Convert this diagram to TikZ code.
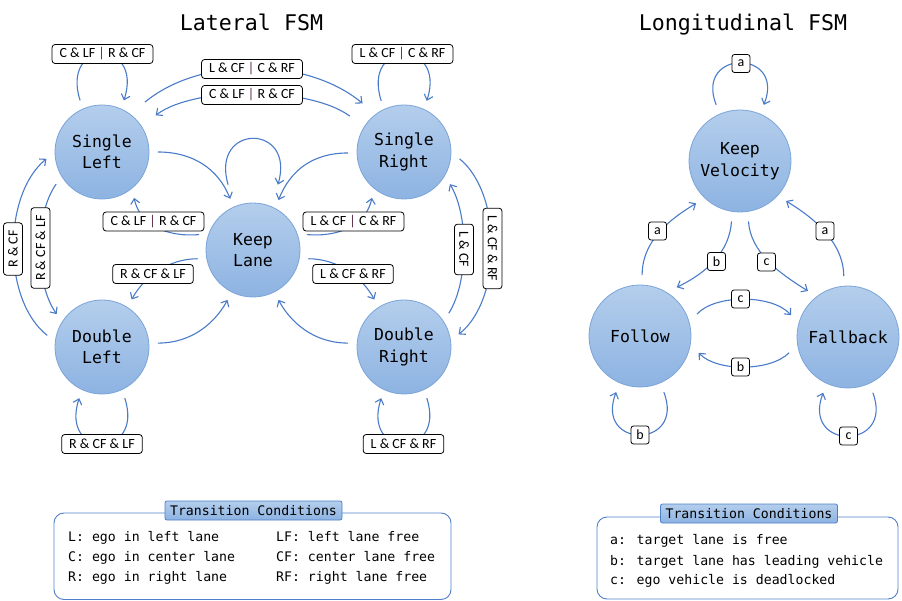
\documentclass[tikz,border=0pt]{standalone}
\usepackage{fontspec}
\setmainfont{Carlito}
\newfontfamily\monof{DejaVu Sans Mono}
\usetikzlibrary{arrows.meta}
\definecolor{arr}{HTML}{4A7BC8}
\definecolor{ctop}{HTML}{B4CEEC}
\definecolor{cbot}{HTML}{8DB3E2}
\definecolor{cbrd}{HTML}{7BA4D9}
\definecolor{barc}{HTML}{5A2A4A}
\definecolor{legb}{HTML}{4F7FC9}
\newcommand\mybar{{\color{barc}|}}
\begin{document}
\begin{tikzpicture}[x=1pt,y=-1pt,
  state/.style={circle, draw=cbrd, line width=0.8pt, top color=ctop, bottom color=cbot,
    minimum size=94pt, inner sep=0pt, outer sep=9pt, align=center,
    font=\monof\fontsize{16.5}{21.6}\selectfont},
  lstate/.style={state, minimum size=102pt, outer sep=10pt},
  conn/.style={draw=arr, line width=1.1pt, -{Straight Barb[length=5pt,width=9pt]}},
  lbl/.style={draw=black, fill=white, rounded corners=3pt, line width=0.8pt,
    font=\fontsize{14}{15}\selectfont, inner xsep=7.5pt, inner ysep=0pt, minimum height=19pt},
  let/.style={draw=black, fill=white, rounded corners=2.5pt, line width=0.8pt,
    font=\fontsize{14}{15}\selectfont, inner sep=0pt, minimum size=18pt},
  title/.style={anchor=base, font=\monof\fontsize{21.6}{24}\selectfont},
  legbox/.style={draw=legb, line width=0.9pt, rounded corners=10pt},
  leghead/.style={draw=legb, line width=0.8pt, top color=ctop, bottom color=cbot, rounded corners=2pt,
    minimum width=177pt, minimum height=19pt, inner sep=0pt, font=\monof\fontsize{13.2}{15}\selectfont},
  legtxt/.style={anchor=base west, inner sep=0pt, font=\monof\fontsize{13.2}{15}\selectfont}
]
\useasboundingbox (0,0) rectangle (902,601);

% titles
\node[title] (T1) at (251.5,31) {Lateral FSM};
\node[title] (T2) at (743,31) {Longitudinal FSM};

% lateral states
\node[state] (SL) at (102,152) {Single\\Left};
\node[state] (SR) at (404,152) {Single\\Right};
\node[state] (KL) at (253,250) {Keep\\Lane};
\node[state] (DL) at (102,347) {Double\\Left};
\node[state] (DR) at (404,347) {Double\\Right};

% lateral connectors
\draw[conn] (SL.113) .. controls +(-20,-62) and +(20,-62) .. (SL.67);
\draw[conn] (SR.114) .. controls +(-20,-62) and +(20,-62) .. (SR.66);
\draw[conn, shorten <=10pt, shorten >=8pt] (SL.51) .. controls +(63,-52) and +(-63,-52) .. (SR.129);
\draw[conn, shorten <=9pt, shorten >=9pt] (SR.147) .. controls +(-47,-35) and +(47,-35) .. (SL.34);
\draw[conn] (SL.0) .. controls +(35,0) and +(-12,-30) .. (KL.114);
\draw[conn, shorten <=14pt, shorten >=14pt] (KL.112) .. controls +(-22,-75) and +(22,-75) .. (KL.68);
\draw[conn] (SR.181) .. controls +(-35,0) and +(12,-30) .. (KL.63);
\draw[conn] (KL.164) .. controls +(-35,3) and +(5,25) .. (SL.-55);
\draw[conn] (KL.16) .. controls +(35,3) and +(-5,25) .. (SR.-125);
\draw[conn] (KL.189) .. controls +(-30,0) and +(12,-22) .. (DL.58);
\draw[conn] (KL.-9) .. controls +(30,0) and +(-12,-22) .. (DR.122);
\draw[conn] (DL.4) .. controls +(35,0) and +(-12,22) .. (KL.243);
\draw[conn] (DR.176) .. controls +(-35,0) and +(12,22) .. (KL.297);
\draw[conn] (DL.-66) .. controls +(20,61) and +(-20,61) .. (DL.-114);
\draw[conn] (DR.-66) .. controls +(20,61) and +(-20,61) .. (DR.-114);
\draw[conn] (DL.168) .. controls +(-45,-35) and +(-44,36) .. (SL.187);
\draw[conn] (SL.215) .. controls +(-22,31) and +(-22,-31) .. (DL.144);
\draw[conn] (DR.37) .. controls +(20,-31) and +(19,31) .. (SR.-35);
\draw[conn] (SR.-7) .. controls +(43,35) and +(44,-35) .. (DR.13);

% lateral labels
\node[lbl] (L1) at (102.5,54) {C \& LF \mybar{} R \& CF};
\node[lbl] (L2) at (402.5,54) {L \& CF \mybar{} C \& RF};
\node[lbl] (L3) at (252,69) {L \& CF \mybar{} C \& RF};
\node[lbl] (L4) at (252,95) {C \& LF \mybar{} R \& CF};
\node[lbl] (L5) at (153.5,221.5) {C \& LF \mybar{} R \& CF};
\node[lbl] (L6) at (353.5,221.5) {L \& CF \mybar{} C \& RF};
\node[lbl] (L7) at (153,274) {R \& CF \& LF};
\node[lbl] (L8) at (353,274) {L \& CF \& RF};
\node[lbl] (L9) at (102,444) {R \& CF \& LF};
\node[lbl] (L10) at (403.5,444) {L \& CF \& RF};
\node[lbl, rotate=90] (L11) at (13,249) {R \& CF};
\node[lbl, rotate=90] (L12) at (40.5,248) {R \& CF \& LF};
\node[lbl, rotate=-90] (L13) at (464,249.5) {L \& CF};
\node[lbl, rotate=-90] (L14) at (492.5,248.5) {L \& CF \& RF};

% longitudinal states
\node[lstate] (KV) at (740,161) {Keep\\Velocity};
\node[lstate] (FO) at (640,336) {Follow};
\node[lstate] (FB) at (848,337) {Fallback};

% longitudinal connectors
\draw[conn] (KV.113) .. controls +(-22,-56) and +(22,-56) .. (KV.67);
\draw[conn] (FO.88) .. controls +(0,-35) and +(-25,15) .. (KV.224);
\draw[conn] (FB.94) .. controls +(0,-35) and +(25,15) .. (KV.-41);
\draw[conn] (KV.262) .. controls +(-2,30) and +(31,-15) .. (FO.53);
\draw[conn] (KV.278) .. controls +(2,30) and +(-31,-19) .. (FB.131);
\draw[conn] (FO.21) .. controls +(18,-20) and +(-19,-21) .. (FB.159);
\draw[conn] (FB.195) .. controls +(-19,19) and +(18,19) .. (FO.-16);
\draw[conn] (FO.-67) .. controls +(22,57) and +(-22,57) .. (FO.-113);
\draw[conn] (FB.-66) .. controls +(22,58) and +(-22,58) .. (FB.-114);

% longitudinal labels
\node[let] (A1) at (741,63.5) {a};
\node[let] (A2) at (657.5,231) {a};
\node[let] (A3) at (825,231) {a};
\node[let] (B1) at (716.5,261.5) {b};
\node[let] (C1) at (766.5,262) {c};
\node[let] (C2) at (740.5,299) {c};
\node[let] (B2) at (740.5,367) {b};
\node[let] (B3) at (640,435) {b};
\node[let] (C3) at (848.5,436) {c};

% legends
\draw[legbox] (54,513) rectangle (451,599.5);
\node[leghead] (H1) at (253.5,510.5) {Transition Conditions};
\node[legtxt] (X1) at (68,541) {L: ego in left lane};
\node[legtxt] (X2) at (68,561.5) {C: ego in center lane};
\node[legtxt] (X3) at (68,581) {R: ego in right lane};
\node[legtxt] (X4) at (276,541) {LF: left lane free};
\node[legtxt] (X5) at (276,561.5) {CF: center lane free};
\node[legtxt] (X6) at (276,581) {RF: right lane free};

\draw[legbox] (597,517) rectangle (898,599);
\node[leghead] (H2) at (749,513.5) {Transition Conditions};
\node[legtxt] (Y1) at (610,544) {a: target lane is free};
\node[legtxt] (Y2) at (610,565) {b: target lane has leading vehicle};
\node[legtxt] (Y3) at (610,584) {c: ego vehicle is deadlocked};
\end{tikzpicture}
\end{document}
